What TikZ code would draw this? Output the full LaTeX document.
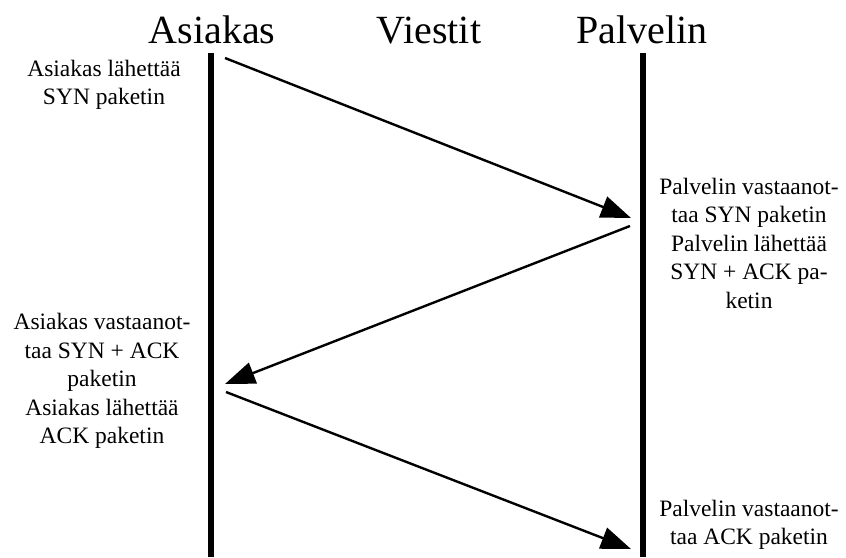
\documentclass[tikz,border=0pt]{standalone}
\usepackage{fontspec}
\setmainfont{Liberation Serif}
\usetikzlibrary{arrows.meta}

\tikzset{
  lifeline/.style={black,line width=5.5pt},
  msg/.style={black,line width=2.4pt,-{Triangle[length=30pt,width=22pt]}},
  head/.style={font=\fontsize{40}{42}\selectfont,anchor=base,inner sep=0pt},
  lbl/.style={font=\fontsize{23.5}{28.5}\selectfont,align=center,inner sep=0pt}
}

\begin{document}
\begin{tikzpicture}[x=1pt,y=-1pt]
            \useasboundingbox (0,0) rectangle (846,557);

            \node[head] (asiakas) at (212,43){Asiakas};
            \node[head] (viestit) at (429,43){Viestit};
            \node[head] (palvelin) at (642,43){Palvelin};

            \coordinate (atop) at (211,53);
            \coordinate (abot) at (211,557);
            \coordinate (ptop) at (643,53);
            \coordinate (pbot) at (643,557);
            \draw[lifeline] (atop) -- (abot);
            \draw[lifeline] (ptop) -- (pbot);

            \coordinate (s1) at (225,58);
            \coordinate (e1) at (631,218);
            \coordinate (s2) at (630,226);
            \coordinate (e2) at (225,384);
            \coordinate (s3) at (226,392);
            \coordinate (e3) at (631,549);
            \draw[msg] (s1) -- (e1);
            \draw[msg] (s2) -- (e2);
            \draw[msg] (s3) -- (e3);

            \node[lbl] (alah) at (104,85){Asiakas lähettää\\SYN paketin};
            \node[lbl] (pvas) at (749,243){Palvelin vastaanot-\\taa SYN paketin\\Palvelin lähettää\\SYN + ACK pa-\\ketin};
            \node[lbl] (avas) at (102,381){Asiakas vastaanot-\\taa SYN + ACK\\paketin\\Asiakas lähettää\\ACK paketin};
            \node[lbl] (pack) at (749,525){Palvelin vastaanot-\\taa ACK paketin};
\end{tikzpicture}
\end{document}
